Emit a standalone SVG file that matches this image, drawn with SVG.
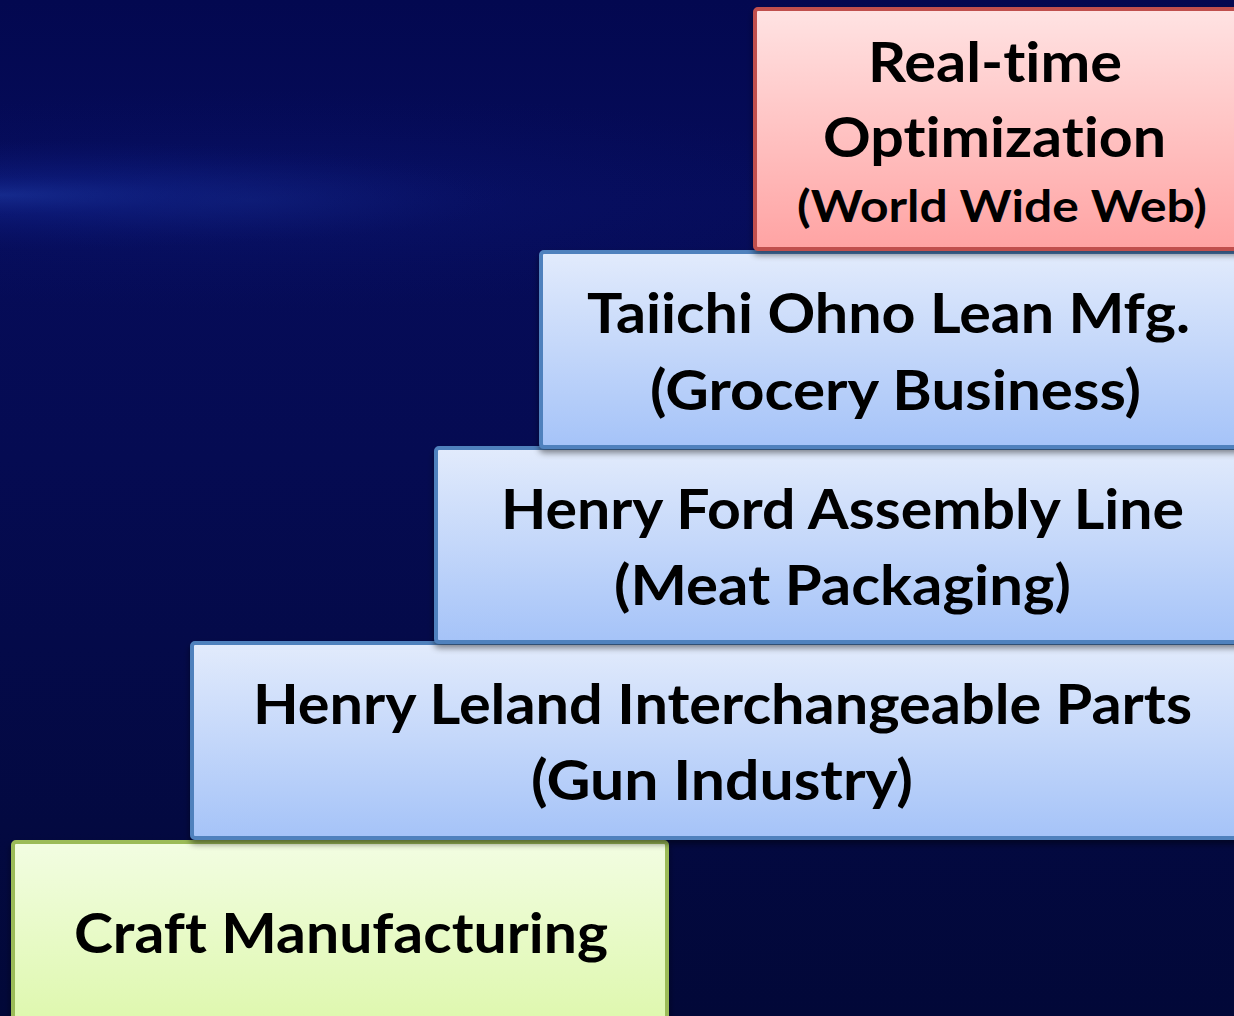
<svg xmlns="http://www.w3.org/2000/svg" width="1234" height="1016" viewBox="0 0 1234 1016">
<defs>
<linearGradient id="bg" x1="0" y1="0" x2="0" y2="1">
<stop offset="0" stop-color="#030850"/>
<stop offset="0.2" stop-color="#060c5a"/>
<stop offset="0.45" stop-color="#050b52"/>
<stop offset="1" stop-color="#020838"/>
</linearGradient>
<radialGradient id="glow" cx="0.5" cy="0.5" r="0.5">
<stop offset="0" stop-color="#1a3399" stop-opacity="0.8"/>
<stop offset="0.35" stop-color="#10228a" stop-opacity="0.45"/>
<stop offset="1" stop-color="#0a1470" stop-opacity="0"/>
</radialGradient>
<linearGradient id="red" x1="0" y1="0" x2="0" y2="1">
<stop offset="0" stop-color="#ffe3e3"/>
<stop offset="1" stop-color="#ffa3a3"/>
</linearGradient>
<linearGradient id="blue" x1="0" y1="0" x2="0" y2="1">
<stop offset="0" stop-color="#e2ebfc"/>
<stop offset="1" stop-color="#a5c3f8"/>
</linearGradient>
<linearGradient id="green" x1="0" y1="0" x2="0" y2="1">
<stop offset="0" stop-color="#f2fde2"/>
<stop offset="1" stop-color="#dcf7a8"/>
</linearGradient>
<filter id="sh" x="-5%" y="-5%" width="110%" height="115%">
<feDropShadow dx="0" dy="4" stdDeviation="3" flood-color="#000" flood-opacity="0.45"/>
</filter>
</defs>
<style>
.box{stroke-width:4;filter:url(#sh)}
.r{fill:url(#red);stroke:#c0504d}
.b{fill:url(#blue);stroke:#4f81bd}
.g{fill:url(#green);stroke:#9bbb59}
text{font-family:Lato,"Open Sans","Liberation Sans",sans-serif;font-weight:bold;fill:#000;font-variant-ligatures:none;font-feature-settings:"liga" 0,"clig" 0,"dlig" 0}
.big{font-size:55px}
.sm{font-size:43px}
</style>
<rect width="1234" height="1016" fill="url(#bg)"/>
<ellipse cx="0" cy="195" rx="520" ry="55" fill="url(#glow)"/>
<ellipse cx="250" cy="200" rx="650" ry="110" fill="url(#glow)" opacity="0.35"/>
<g id="node-craft">
<rect class="box g" x="13" y="842" width="654" height="200" rx="3"/>
<text x="74" y="953" textLength="534" lengthAdjust="spacingAndGlyphs" class="big">Craft Manufacturing</text>
</g>
<g id="node-leland">
<rect class="box b" x="192" y="643" width="1060" height="195" rx="3"/>
<text x="253" y="724" textLength="939" lengthAdjust="spacingAndGlyphs" class="big">Henry Leland Interchangeable Parts</text>
<text x="531" y="800" textLength="382" lengthAdjust="spacingAndGlyphs" class="big">(Gun Industry)</text>
</g>
<g id="node-ford">
<rect class="box b" x="436" y="448" width="816" height="194" rx="3"/>
<text x="501" y="529" textLength="683" lengthAdjust="spacingAndGlyphs" class="big">Henry Ford Assembly Line</text>
<text x="614" y="605" textLength="457" lengthAdjust="spacingAndGlyphs" class="big">(Meat Packaging)</text>
</g>
<g id="node-ohno">
<rect class="box b" x="541" y="252" width="711" height="195" rx="3"/>
<text x="587" y="333" textLength="603" lengthAdjust="spacingAndGlyphs" class="big">Taiichi Ohno Lean Mfg.</text>
<text x="650" y="410" textLength="491" lengthAdjust="spacingAndGlyphs" class="big">(Grocery Business)</text>
</g>
<g id="node-rto">
<rect class="box r" x="755" y="9" width="497" height="240" rx="3"/>
<text x="868" y="82" textLength="254" lengthAdjust="spacingAndGlyphs" class="big">Real-time</text>
<text x="823" y="157" textLength="343" lengthAdjust="spacingAndGlyphs" class="big">Optimization</text>
<text x="797" y="222" textLength="410" lengthAdjust="spacingAndGlyphs" class="sm">(World Wide Web)</text>
</g>
<g id="connectors"/>
</svg>
